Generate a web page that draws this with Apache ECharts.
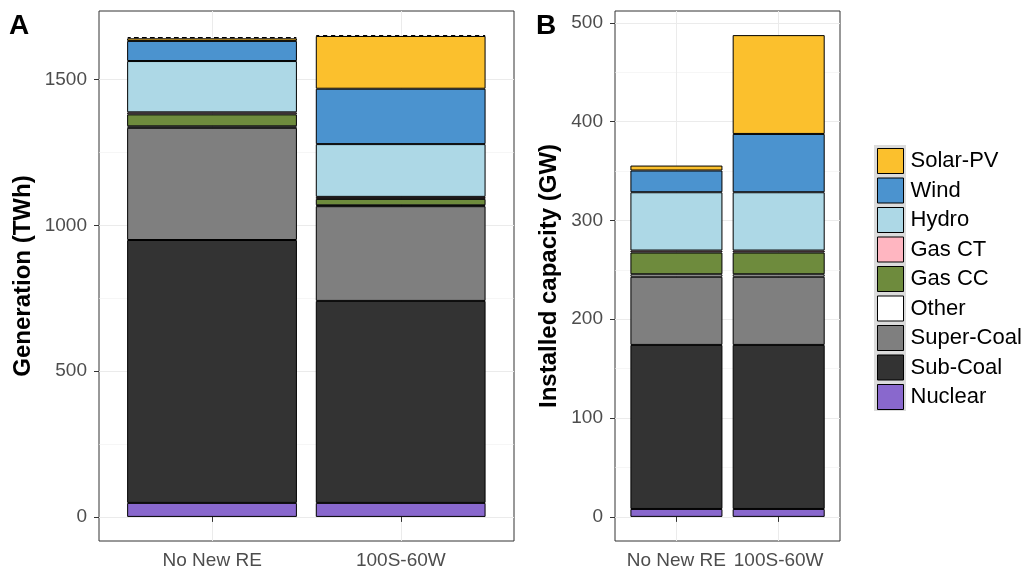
<!DOCTYPE html>
<html><head><meta charset="utf-8">
<script src="https://cdn.jsdelivr.net/npm/echarts@6/dist/echarts.min.js"></script>
<style>html,body{margin:0;padding:0;background:#fff}#chart{width:1027px;height:571px}</style>
</head><body><div id="chart"></div>
<script>
// ---------------- data ----------------
const categories = ['No New RE', '100S-60W'];
const legendOrder = ['Solar-PV', 'Wind', 'Hydro', 'Gas CT', 'Gas CC', 'Other', 'Super-Coal', 'Sub-Coal', 'Nuclear'];

// Panel A: Generation (TWh), stacked bottom -> top
const genNuclear   = [48, 48];
const genSubCoal   = [902, 693];
const genSuperCoal = [385, 325];
const genOther     = [5, 3];
const genGasCC     = [41, 22];
const genGasCT     = [7, 7];
const genHydro     = [176, 181];
const genWind      = [69, 190];
const genSolar     = [9, 181];
const genDashedTop = [4, 3];   // thin dashed-outline segment on top (not in legend)

// Panel B: Installed capacity (GW)
const capNuclear   = [8, 8];
const capSubCoal   = [166, 166];
const capSuperCoal = [69, 69];
const capOther     = [2.5, 2.5];
const capGasCC     = [22, 22];
const capGasCT     = [2, 2];
const capHydro     = [59, 59];
const capWind      = [22, 59];
const capSolar     = [5, 100];

// tick labels
const genYTicks = [0, 500, 1000, 1500];
const genYMinor = [250, 750, 1250];
const capYTicks = [0, 100, 200, 300, 400, 500];
const capYMinor = [50, 150, 250, 350, 450];

// ---------------- styling ----------------
const FONT = '"Liberation Sans", Arial, sans-serif';
const colors = {
  'Nuclear': '#8968CD', 'Sub-Coal': '#333333', 'Super-Coal': '#7F7F7F', 'Other': '#FFFFFF',
  'Gas CC': '#6E8B3D', 'Gas CT': '#FFB6C1', 'Hydro': '#ADD8E6', 'Wind': '#4B93CF', 'Solar-PV': '#FBC02D'
};
const catPos = categories.map((c, i) => i + 1);

function bars(xi, yi, stack, pairs) {
  return pairs.map(([name, data]) => ({
    name, type: 'bar', stack, xAxisIndex: xi, yAxisIndex: yi, data,
    barWidth: '90%',
    itemStyle: { color: colors[name], borderColor: '#000', borderWidth: 1 },
    emphasis: { disabled: true }
  }));
}

const seriesA = bars(1, 2, 'gen', [
  ['Nuclear', genNuclear], ['Sub-Coal', genSubCoal], ['Super-Coal', genSuperCoal], ['Other', genOther],
  ['Gas CC', genGasCC], ['Gas CT', genGasCT], ['Hydro', genHydro], ['Wind', genWind], ['Solar-PV', genSolar]
]);
seriesA.push({
  name: 'dashed-top', type: 'bar', stack: 'gen', xAxisIndex: 1, yAxisIndex: 2, data: genDashedTop,
  barWidth: '90%',
  itemStyle: { color: 'rgba(255,255,255,0)', borderColor: '#000', borderWidth: 1.2, borderType: [3, 5] },
  emphasis: { disabled: true }
});
const seriesB = bars(3, 5, 'cap', [
  ['Nuclear', capNuclear], ['Sub-Coal', capSubCoal], ['Super-Coal', capSuperCoal], ['Other', capOther],
  ['Gas CC', capGasCC], ['Gas CT', capGasCT], ['Hydro', capHydro], ['Wind', capWind], ['Solar-PV', capSolar]
]);

const tickLabel = { fontSize: 19, color: '#4D4D4D', fontFamily: FONT };
const gridLine = { show: true, lineStyle: { color: '#EBEBEB', width: 1 } };
const minorLine = { show: true, lineStyle: { color: '#F0F0F0', width: 0.6 } };

function frameX(grid) {
  return {
    gridIndex: grid, type: 'value', min: 0.4, max: 2.6,
    axisLine: { show: false },
    axisTick: { show: true, length: 5, lineStyle: { color: '#333' }, customValues: catPos },
    axisLabel: Object.assign({ customValues: catPos, margin: 10, formatter: v => categories[Math.round(v) - 1] }, tickLabel),
    splitLine: gridLine
  };
}
function innerX(grid) {
  return { gridIndex: grid, type: 'category', data: categories, show: false };
}
function majorY(grid, min, max, ticks, name, gap) {
  return {
    gridIndex: grid, type: 'value', min, max,
    axisLine: { show: false },
    axisTick: { show: true, length: 5, lineStyle: { color: '#333' }, customValues: ticks },
    axisLabel: Object.assign({ customValues: ticks, margin: 12, formatter: v => String(v) }, tickLabel),
    splitLine: gridLine,
    name, nameLocation: 'middle', nameRotate: 90, nameGap: gap,
    nameTextStyle: { fontSize: 24, fontWeight: 'bold', color: '#000', fontFamily: FONT }
  };
}
function minorY(grid, min, max, ticks) {
  return {
    gridIndex: grid, type: 'value', min, max, position: 'left',
    axisLine: { show: false },
    axisTick: { show: false, customValues: ticks },
    axisLabel: { show: false },
    splitLine: minorLine
  };
}
function innerY(grid, min, max) {
  return { gridIndex: grid, type: 'value', min, max, show: false };
}

const genMin = -82.65, genMax = 1735.65;
const capMin = -24.4, capMax = 511.9;

const option = {
  animation: false,
  backgroundColor: '#fff',
  textStyle: { fontFamily: FONT },
  title: [
    { text: 'A', left: 4, top: 7, textStyle: { fontSize: 28, fontWeight: 'bold', color: '#000', fontFamily: FONT } },
    { text: 'B', left: 531, top: 7, textStyle: { fontSize: 28, fontWeight: 'bold', color: '#000', fontFamily: FONT } }
  ],
  graphic: [
    { type: 'rect', left: 874, top: 145, shape: { width: 32, height: 266 }, style: { fill: '#DCDCDC' }, z: 0 }
  ],
  legend: {
    data: legendOrder, orient: 'vertical', left: 877, top: 148, padding: 0,
    itemWidth: 26, itemHeight: 25, itemGap: 3.5, icon: 'rect',
    itemStyle: { borderColor: '#000', borderWidth: 1 },
    textStyle: { fontSize: 22, color: '#000', fontFamily: FONT, lineHeight: 25, padding: [0, 0, 0, 2] },
    selectedMode: false
  },
  grid: [
    { left: 99, top: 11, width: 415, height: 530, show: true, borderColor: '#333', borderWidth: 1, backgroundColor: 'rgba(0,0,0,0)' },
    { left: 117.7, top: 11, width: 377.3, height: 530 },
    { left: 615, top: 11, width: 225, height: 530, show: true, borderColor: '#333', borderWidth: 1, backgroundColor: 'rgba(0,0,0,0)' },
    { left: 625.3, top: 11, width: 204.5, height: 530 }
  ],
  xAxis: [frameX(0), innerX(1), frameX(2), innerX(3)],
  yAxis: [
    majorY(0, genMin, genMax, genYTicks, 'Generation (TWh)', 64),
    minorY(0, genMin, genMax, genYMinor),
    innerY(1, genMin, genMax),
    majorY(2, capMin, capMax, capYTicks, 'Installed capacity (GW)', 54),
    minorY(2, capMin, capMax, capYMinor),
    innerY(3, capMin, capMax)
  ],
  series: seriesA.concat(seriesB)
};

const chart = echarts.init(document.getElementById('chart'), null, { renderer: 'canvas' });
chart.setOption(option);
</script>
</body></html>
